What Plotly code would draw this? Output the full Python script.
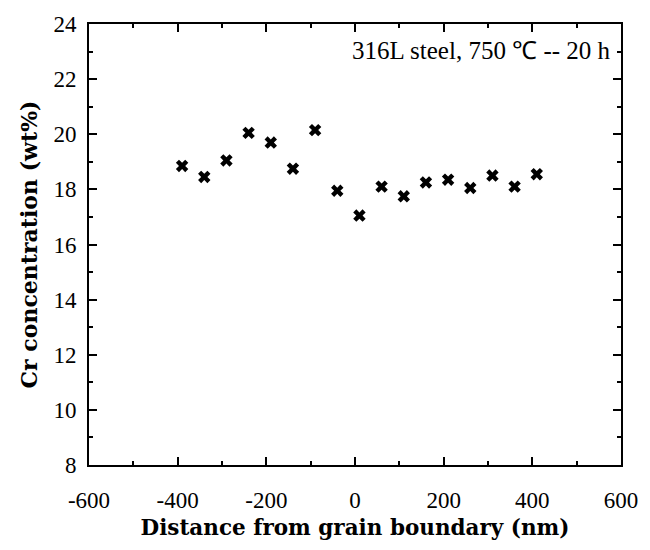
import plotly.graph_objects as go

distance_nm = [-390, -340, -290, -240, -190, -140, -90, -40, 10, 60, 110, 160, 210, 260, 310, 360, 410]
cr_wt_pct = [18.85, 18.45, 19.05, 20.05, 19.7, 18.75, 20.15, 17.95, 17.05, 18.1, 17.75, 18.25, 18.35, 18.05, 18.5, 18.1, 18.55]

x_ticks = [-600, -400, -200, 0, 200, 400, 600]
y_ticks = [8, 10, 12, 14, 16, 18, 20, 22, 24]

SERIF = "Liberation Serif, Times New Roman, serif"

fig = go.Figure()
fig.add_trace(go.Scatter(
    x=distance_nm, y=cr_wt_pct, mode="markers",
    marker=dict(symbol="x", size=11, color="black", line=dict(width=0)),
    showlegend=False,
))

axis_common = dict(
    showgrid=False, zeroline=False,
    showline=True, linecolor="black", linewidth=2,
    mirror="allticks", ticks="inside", ticklen=8, tickwidth=2, tickcolor="black",
    tickfont=dict(family=SERIF, size=23, color="black"),
)

fig.update_xaxes(
    range=[-600, 600], tickvals=x_ticks, ticktext=[str(v) for v in x_ticks],
    minor=dict(ticks="inside", ticklen=4, tickwidth=2, tickcolor="black", dtick=100),
    ticklabelstandoff=13,
    title=dict(text="Distance from grain boundary (nm)",
               font=dict(family="DejaVu Serif", size=21.5, color="black", weight="bold"),
               standoff=8),
    **axis_common,
)
fig.update_yaxes(
    range=[8, 24], tickvals=y_ticks, ticktext=[str(v) for v in y_ticks],
    minor=dict(ticks="inside", ticklen=4, tickwidth=2, tickcolor="black", dtick=1),
    ticklabelstandoff=6,
    title=dict(text="Cr concentration (wt%)",
               font=dict(family="DejaVu Serif", size=22, color="black", weight="bold"),
               standoff=10),
    **axis_common,
)

fig.add_annotation(
    text="316L steel, 750 ℃ -- 20 h", xref="paper", yref="paper",
    x=0.985, y=0.94, xanchor="right", yanchor="middle", showarrow=False,
    font=dict(family=SERIF, size=25, color="black"),
)

fig.update_layout(
    width=650, height=550,
    margin=dict(l=89, r=22, t=18, b=85),
    paper_bgcolor="white", plot_bgcolor="white",
)

fig.write_html("out.html")
